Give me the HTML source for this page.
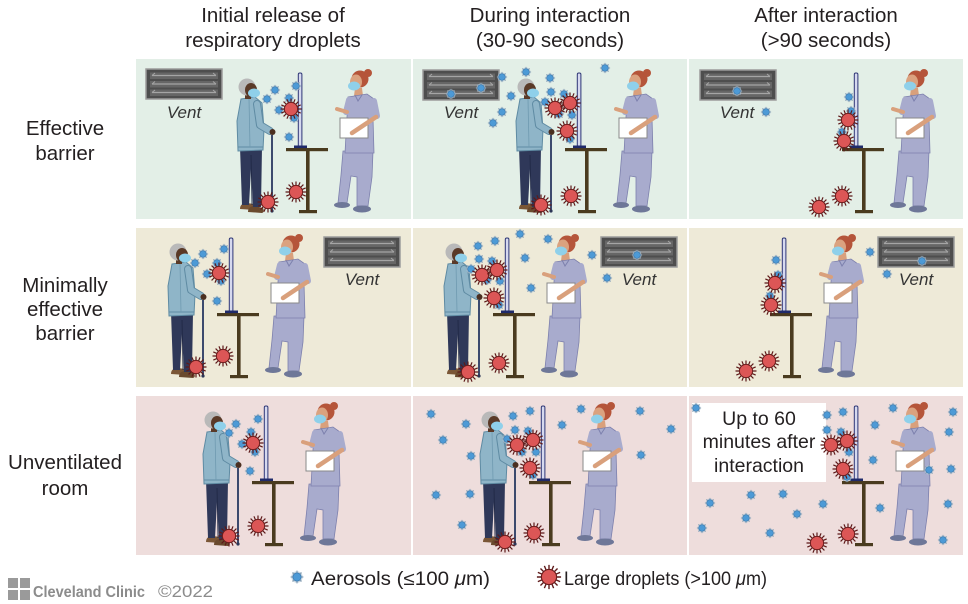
<!DOCTYPE html>
<html><head><meta charset="utf-8"><style>
html,body{margin:0;padding:0;background:#fff;}
svg{display:block;}
text{font-family:"Liberation Sans",Arial,sans-serif;}
</style></head><body>
<svg width="968" height="604" viewBox="0 0 968 604" xmlns="http://www.w3.org/2000/svg">
<defs>
  <g id="a">
    <circle r="4.6" fill="#b8cad8" opacity="0.7"/>
    <path d="M3 0H5.1M-3 0H-5.1M0 3V5.1M0 -3V-5.1M2.1 2.1L3.6 3.6M-2.1 -2.1L-3.6 -3.6M2.1 -2.1L3.6 -3.6M-2.1 2.1L-3.6 3.6" stroke="#8aa2b6" stroke-width="1"/>
    <circle r="3.3" fill="#4d9ad6" stroke="#3a78ad" stroke-width="0.6"/>
  </g>
  <path id="q" d="M6 0L10.5 0M5.54 2.3L9.7 4.02M4.24 4.24L7.42 7.42M2.3 5.54L4.02 9.7" stroke="#5e1a1a" stroke-width="1.2"/>
  <g id="d">
    <use href="#q"/><use href="#q" transform="rotate(90)"/><use href="#q" transform="rotate(180)"/><use href="#q" transform="rotate(270)"/>
    <circle r="6.6" fill="#dc5656" stroke="#6b1d1d" stroke-width="1"/>
  </g>
  <g id="vent">
    <rect x="0" y="0" width="76" height="30" fill="#4e4e4e" stroke="#9c9c9c" stroke-width="1.5"/>
    <rect x="4" y="3.5" width="68" height="6.5" fill="#666"/>
    <rect x="4" y="12" width="68" height="6.5" fill="#666"/>
    <rect x="4" y="20.5" width="68" height="6.5" fill="#666"/>
    <path d="M6 6.5H70M6 15H70M6 23.5H70" stroke="#a5a5a5" stroke-width="1.2"/>
    <path d="M6 6.5L9 4M70 6.5L67 4M6 15L9 12.5M70 15L67 12.5M6 23.5L9 21M70 23.5L67 21" stroke="#a5a5a5" stroke-width="1"/>
  </g>
  <g id="bar">
    <rect x="150" y="89" width="42" height="3.2" fill="#4a3b1f"/>
    <rect x="170" y="92" width="3.6" height="60" fill="#4a3b1f"/>
    <rect x="163" y="151" width="18" height="3.2" fill="#4a3b1f"/>
    <rect x="162.3" y="14" width="3.6" height="74" rx="1.5" fill="#d6d9ef" stroke="#2e3675" stroke-width="1"/>
    <rect x="158" y="86.5" width="13" height="2.6" fill="#1f2a6a"/>
  </g>
  <g id="pat">
    <line x1="136" y1="76" x2="136" y2="152" stroke="#3c4a6e" stroke-width="2"/>
    <circle cx="136" cy="152" r="1.6" fill="#2c3656"/>
    <path d="M104 150 Q104 144 111 144 L118 145 L119 151 Z" fill="#7a5636"/>
    <path d="M112 153 Q112 147 119 147 L127 149 Q129 153 126 154 Z" fill="#6a4a2e"/>
    <path d="M104 88 L126 88 L125 148 L117 148 L115 110 L113 146 L106 146 Z" fill="#2f3859"/>
    <path d="M115 96 L116 146" stroke="#1f2744" stroke-width="0.8"/>
    <path d="M105 40 L119 38 L126 44 L128 70 L127 91 L102 92 L101 62 Z" fill="#8fb5c8" stroke="#5f8ba3" stroke-width="1"/>
    <path d="M102 88 L127 88" stroke="#5f8ba3" stroke-width="1"/>
    <path d="M113 40 L114 88" stroke="#6f9ab0" stroke-width="0.8"/>
    <path d="M121 45 L124 66 L134 72" fill="none" stroke="#5f8ba3" stroke-width="8" stroke-linecap="round" stroke-linejoin="round"/>
    <path d="M121 45 L124 66 L134 72" fill="none" stroke="#8fb5c8" stroke-width="6" stroke-linecap="round" stroke-linejoin="round"/>
    <circle cx="136.5" cy="73" r="3" fill="#4b2f20"/>
    <rect x="109" y="34" width="6" height="6" fill="#5a3a28"/>
    <circle cx="111" cy="28" r="8.5" fill="#b9b9b9"/>
    <ellipse cx="115" cy="31" rx="6" ry="7" fill="#5a3a28"/>
    <ellipse cx="118" cy="34" rx="6" ry="4.5" fill="#8fd0ea"/>
  </g>
  <g id="nur">
    <path d="M207 92 L237 92 L236 118 L232 147 L221 147 L221 118 L215 117 L211 144 L202 144 L205 116 Z" fill="#a8abcd" stroke="#7d80ad" stroke-width="0.8"/>
    <ellipse cx="206" cy="146" rx="8" ry="3" fill="#6e7798"/>
    <ellipse cx="226" cy="150" rx="9" ry="3.5" fill="#6e7798"/>
    <path d="M219 29 L226 29 L227 37 L222 42 L218 37 Z" fill="#d9a07c"/>
    <path d="M212 38 L231 35 L238 40 L241 57 L237 59 L238 94 L209 94 L211 58 Z" fill="#a8abcd" stroke="#7d80ad" stroke-width="0.8"/>
    <path d="M219 36 L222 42 L226 36" fill="none" stroke="#7d80ad" stroke-width="1"/>
    <path d="M213 41 L210 53" stroke="#a8abcd" stroke-width="6" stroke-linecap="round"/>
    <path d="M211 53 L201 50" stroke="#d9a07c" stroke-width="4" stroke-linecap="round"/>
    <rect x="204" y="59" width="28" height="20" fill="#fff" stroke="#8a8a8a" stroke-width="1"/>
    <path d="M238 42 L241 57" stroke="#a8abcd" stroke-width="6" stroke-linecap="round"/>
    <path d="M240 58 L216 74" stroke="#d9a07c" stroke-width="4.5" stroke-linecap="round"/>
    <circle cx="224" cy="20" r="8.5" fill="#b5553a"/>
    <circle cx="232" cy="14" r="4" fill="#b5553a"/>
    <ellipse cx="220" cy="23" rx="6" ry="7.5" fill="#dba27f"/>
    <ellipse cx="218" cy="27" rx="6" ry="4.5" fill="#8fd0ea"/>
  </g>
  <g id="full"><use href="#bar"/><use href="#pat"/><use href="#nur"/></g>
  <g id="nop"><use href="#bar"/><use href="#nur"/></g>
</defs>

<!-- headers -->
<g font-size="20.5" fill="#231f20" text-anchor="middle">
  <text x="273" y="22">Initial release of</text>
  <text x="273" y="47">respiratory droplets</text>
  <text x="550" y="22">During interaction</text>
  <text x="550" y="47">(30-90 seconds)</text>
  <text x="826" y="22">After interaction</text>
  <text x="826" y="47">(&gt;90 seconds)</text>
</g>
<g font-size="20.5" fill="#231f20" text-anchor="middle">
  <text x="65" y="135">Effective</text>
  <text x="65" y="160">barrier</text>
  <text x="65" y="292">Minimally</text>
  <text x="65" y="316">effective</text>
  <text x="65" y="340">barrier</text>
  <text x="65" y="469">Unventilated</text>
  <text x="65" y="495">room</text>
</g>

<!-- panels -->
<rect x="136" y="59" width="275" height="160" fill="#e3efe7"/>
<rect x="413" y="59" width="274" height="160" fill="#e3efe7"/>
<rect x="689" y="59" width="274" height="160" fill="#e3efe7"/>
<rect x="136" y="228" width="275" height="159" fill="#eeead8"/>
<rect x="413" y="228" width="274" height="159" fill="#eeead8"/>
<rect x="689" y="228" width="274" height="159" fill="#eeead8"/>
<rect x="136" y="396" width="275" height="159" fill="#eedddc"/>
<rect x="413" y="396" width="274" height="159" fill="#eedddc"/>
<rect x="689" y="396" width="274" height="159" fill="#eedddc"/>

<!-- vents -->
<use href="#vent" x="146" y="69"/>
<use href="#vent" x="423" y="70"/>
<use href="#vent" x="700" y="70"/>
<use href="#vent" x="324" y="237"/>
<use href="#vent" x="601" y="237"/>
<use href="#vent" x="878" y="237"/>
<g font-size="17" font-style="italic" fill="#333" text-anchor="middle">
  <text x="184" y="118">Vent</text>
  <text x="461" y="118">Vent</text>
  <text x="737" y="118">Vent</text>
  <text x="362" y="285">Vent</text>
  <text x="639" y="285">Vent</text>
  <text x="916" y="285">Vent</text>
</g>

<!-- scenes -->
<use href="#full" transform="translate(136,59)"/>
<use href="#full" transform="translate(415,59)"/>
<use href="#nop" transform="translate(692,59)"/>
<use href="#full" transform="translate(67,224)"/>
<use href="#full" transform="translate(343,224)"/>
<use href="#nop" transform="translate(620,224)"/>
<use href="#full" transform="translate(102,392)"/>
<use href="#full" transform="translate(379,392)"/>
<use href="#nop" transform="translate(692,392)"/>

<!-- text box R3C3 -->
<rect x="692" y="403" width="134" height="79" fill="#fff"/>
<g font-size="19.5" fill="#231f20" text-anchor="middle">
  <text x="759" y="425">Up to 60</text>
  <text x="759" y="448">minutes after</text>
  <text x="759" y="472">interaction</text>
</g>

<!-- aerosols -->
<g>
<use href="#a" x="275" y="90"/><use href="#a" x="296" y="86"/><use href="#a" x="267" y="99"/><use href="#a" x="289" y="98"/><use href="#a" x="279" y="110"/><use href="#a" x="294" y="118"/><use href="#a" x="289" y="137"/>

<use href="#a" x="502" y="77"/><use href="#a" x="526" y="72"/><use href="#a" x="550" y="78"/><use href="#a" x="605" y="68"/><use href="#a" x="511" y="96"/><use href="#a" x="551" y="92"/><use href="#a" x="564" y="94"/><use href="#a" x="545" y="102"/><use href="#a" x="502" y="112"/><use href="#a" x="493" y="123"/><use href="#a" x="559" y="114"/><use href="#a" x="572" y="115"/><use href="#a" x="570" y="139"/><use href="#a" x="451" y="94"/><use href="#a" x="481" y="88"/>

<use href="#a" x="737" y="91"/><use href="#a" x="766" y="112"/><use href="#a" x="849" y="97"/><use href="#a" x="851" y="111"/><use href="#a" x="842" y="132"/>

<use href="#a" x="203" y="254"/><use href="#a" x="195" y="263"/><use href="#a" x="224" y="249"/><use href="#a" x="217" y="263"/><use href="#a" x="207" y="274"/><use href="#a" x="221" y="281"/><use href="#a" x="217" y="301"/>

<use href="#a" x="520" y="234"/><use href="#a" x="548" y="239"/><use href="#a" x="478" y="246"/><use href="#a" x="495" y="241"/><use href="#a" x="479" y="259"/><use href="#a" x="492" y="261"/><use href="#a" x="471" y="269"/><use href="#a" x="525" y="258"/><use href="#a" x="500" y="281"/><use href="#a" x="531" y="288"/><use href="#a" x="499" y="305"/><use href="#a" x="592" y="255"/><use href="#a" x="607" y="278"/><use href="#a" x="637" y="255"/><use href="#a" x="487" y="280"/>

<use href="#a" x="870" y="252"/><use href="#a" x="887" y="274"/><use href="#a" x="922" y="261"/><use href="#a" x="776" y="260"/><use href="#a" x="778" y="275"/><use href="#a" x="770" y="296"/>

<use href="#a" x="236" y="424"/><use href="#a" x="258" y="419"/><use href="#a" x="229" y="433"/><use href="#a" x="251" y="432"/><use href="#a" x="242" y="444"/><use href="#a" x="255" y="452"/><use href="#a" x="250" y="471"/>

<use href="#a" x="431" y="414"/><use href="#a" x="466" y="424"/><use href="#a" x="443" y="440"/><use href="#a" x="471" y="456"/><use href="#a" x="436" y="495"/><use href="#a" x="470" y="494"/><use href="#a" x="462" y="525"/><use href="#a" x="513" y="416"/><use href="#a" x="530" y="411"/><use href="#a" x="515" y="430"/><use href="#a" x="507" y="439"/><use href="#a" x="528" y="431"/><use href="#a" x="522" y="452"/><use href="#a" x="536" y="452"/><use href="#a" x="533" y="475"/><use href="#a" x="562" y="425"/><use href="#a" x="581" y="409"/><use href="#a" x="640" y="411"/><use href="#a" x="671" y="429"/><use href="#a" x="641" y="455"/>

<use href="#a" x="696" y="408"/><use href="#a" x="827" y="415"/><use href="#a" x="843" y="412"/><use href="#a" x="893" y="408"/><use href="#a" x="953" y="412"/><use href="#a" x="875" y="425"/><use href="#a" x="949" y="432"/><use href="#a" x="827" y="430"/><use href="#a" x="841" y="432"/><use href="#a" x="849" y="452"/><use href="#a" x="873" y="460"/><use href="#a" x="929" y="470"/><use href="#a" x="951" y="469"/><use href="#a" x="847" y="477"/><use href="#a" x="710" y="503"/><use href="#a" x="751" y="495"/><use href="#a" x="783" y="494"/><use href="#a" x="823" y="504"/><use href="#a" x="880" y="508"/><use href="#a" x="948" y="504"/><use href="#a" x="746" y="518"/><use href="#a" x="797" y="514"/><use href="#a" x="702" y="528"/><use href="#a" x="770" y="533"/><use href="#a" x="943" y="540"/>
</g>

<!-- droplets -->
<g>
<use href="#d" x="291" y="109"/><use href="#d" x="296" y="192"/><use href="#d" x="268" y="202"/>
<use href="#d" x="555" y="108"/><use href="#d" x="570" y="103"/><use href="#d" x="567" y="131"/><use href="#d" x="571" y="196"/><use href="#d" x="541" y="205"/>
<use href="#d" x="848" y="120"/><use href="#d" x="844" y="141"/><use href="#d" x="842" y="196"/><use href="#d" x="819" y="207"/>
<use href="#d" x="219" y="273"/><use href="#d" x="223" y="356"/><use href="#d" x="196" y="367"/>
<use href="#d" x="482" y="275"/><use href="#d" x="497" y="270"/><use href="#d" x="494" y="298"/><use href="#d" x="499" y="363"/><use href="#d" x="468" y="372"/>
<use href="#d" x="775" y="283"/><use href="#d" x="771" y="305"/><use href="#d" x="769" y="361"/><use href="#d" x="746" y="371"/>
<use href="#d" x="253" y="443"/><use href="#d" x="258" y="526"/><use href="#d" x="229" y="536"/>
<use href="#d" x="517" y="445"/><use href="#d" x="533" y="440"/><use href="#d" x="530" y="468"/><use href="#d" x="534" y="533"/><use href="#d" x="505" y="542"/>
<use href="#d" x="831" y="445"/><use href="#d" x="847" y="441"/><use href="#d" x="843" y="469"/><use href="#d" x="848" y="534"/><use href="#d" x="817" y="543"/>
</g>

<!-- legend -->
<use href="#a" transform="translate(297,577) scale(1.25)"/>
<use href="#d" transform="translate(549,577) scale(1.15)"/>
<g font-size="19" fill="#231f20">
  <text x="311" y="585" textLength="179" lengthAdjust="spacingAndGlyphs">Aerosols (≤100 <tspan font-style="italic">μ</tspan>m)</text>
  <text x="564" y="585" textLength="203" lengthAdjust="spacingAndGlyphs">Large droplets (&gt;100 <tspan font-style="italic">μ</tspan>m)</text>
</g>

<!-- logo -->
<g fill="#9a9a9a">
  <rect x="8" y="578" width="10" height="10"/>
  <rect x="20" y="578" width="10" height="10"/>
  <rect x="8" y="590" width="10" height="10"/>
  <rect x="20" y="590" width="10" height="10"/>
</g>
<text x="33" y="597" font-size="16" font-weight="bold" fill="#8c8c8c" textLength="112" lengthAdjust="spacingAndGlyphs">Cleveland Clinic</text>
<text x="158" y="597" font-size="17" fill="#8c8c8c" textLength="55" lengthAdjust="spacingAndGlyphs">©2022</text>
</svg>
</body></html>
